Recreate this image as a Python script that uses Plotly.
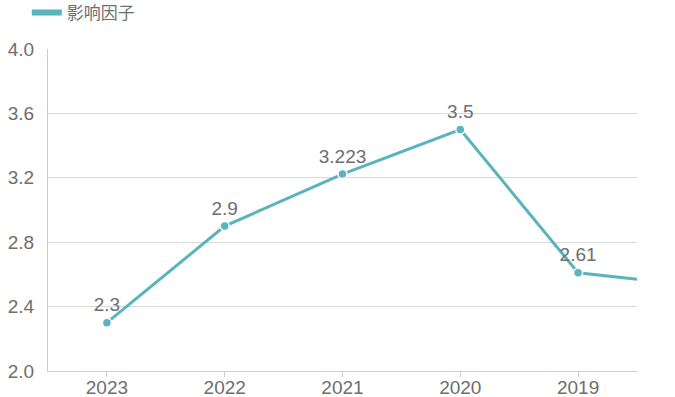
import plotly.graph_objects as go

years = ["2023", "2022", "2021", "2020", "2019", "2018"]
impact = [2.3, 2.9, 3.223, 3.5, 2.61, 2.53]
labels = ["2.3", "2.9", "3.223", "3.5", "2.61", ""]
series_name = "影响因子"
y_ticks = [2.0, 2.4, 2.8, 3.2, 3.6, 4.0]

teal = "#5ab4bd"
grey = "#6e6e6e"
font_family = "Liberation Sans, Arial, Noto Sans CJK SC, sans-serif"

fig = go.Figure()
fig.add_trace(go.Scatter(
    x=years, y=impact, mode="lines+markers+text",
    text=labels, textposition="top center",
    textfont=dict(size=19, color=grey, family=font_family),
    line=dict(color=teal, width=3),
    marker=dict(size=9, color=teal, line=dict(color="white", width=1.5)),
    showlegend=False, cliponaxis=True,
))
fig.add_trace(go.Scatter(
    x=[None], y=[None], mode="lines", name=series_name,
    line=dict(color=teal, width=6), showlegend=True,
))

fig.update_layout(
    width=675, height=397,
    margin=dict(l=48, r=38, t=49, b=26, autoexpand=False),
    paper_bgcolor="white", plot_bgcolor="white",
    font=dict(family=font_family, color=grey, size=19),
    legend=dict(
        orientation="h", x=-0.036, y=1.112, xanchor="left", yanchor="middle",
        font=dict(size=17, color=grey, family=font_family),
        itemwidth=30, bgcolor="rgba(0,0,0,0)", borderwidth=0,
    ),
    xaxis=dict(
        type="category", range=[-0.5, 4.5], categoryorder="array",
        categoryarray=years, automargin=False,
        showgrid=False, showline=True, linecolor="#cccccc", linewidth=1,
        ticks="outside", ticklen=5, tickcolor="#cccccc",
        tickfont=dict(size=19, color=grey), zeroline=False,
        ticklabelstandoff=-6,
    ),
    yaxis=dict(
        range=[2.0, 4.0], tickvals=y_ticks, automargin=False,
        ticktext=[f"{v:.1f}" for v in y_ticks],
        showgrid=True, gridcolor="#d9d9d9", gridwidth=1,
        showline=True, linecolor="#cccccc", linewidth=1,
        ticks="", tickfont=dict(size=19, color=grey), zeroline=False,
        ticklabelstandoff=9,
    ),
)

fig.write_html(
    "out.html",
    config={"displayModeBar": False},
    post_script="document.body.style.margin='0';document.body.style.overflow='hidden';",
)
